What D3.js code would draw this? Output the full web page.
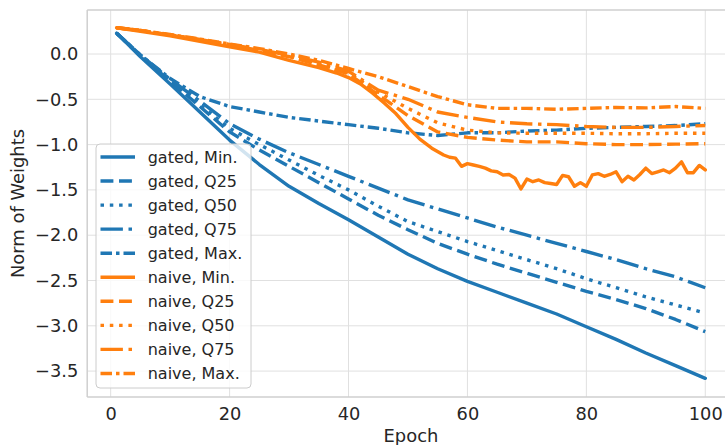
<!DOCTYPE html>
<html>
<head>
<meta charset="utf-8">
<script src="https://cdn.jsdelivr.net/npm/d3@7"></script>
<style>
  body { margin: 0; background: #fff; }
  svg { display: block; font-family: "DejaVu Sans", sans-serif; }
</style>
</head>
<body>
<div id="container"></div>
<script>
// Values
const epochs = [1, 5, 10, 15, 20, 25, 30, 35, 40, 45, 50, 55, 60, 65, 70, 75, 80, 85, 90, 95, 100];

const gatedMin = [0.23, -0.03, -0.33, -0.64, -0.95, -1.22, -1.46, -1.65, -1.83, -2.02, -2.21, -2.37, -2.51, -2.63, -2.75, -2.87, -3.01, -3.15, -3.30, -3.44, -3.58];
const gatedQ25 = [0.23, -0.02, -0.30, -0.58, -0.86, -1.06, -1.24, -1.42, -1.60, -1.78, -1.94, -2.09, -2.21, -2.32, -2.42, -2.52, -2.62, -2.71, -2.81, -2.93, -3.065];
const gatedQ50 = [0.23, -0.02, -0.29, -0.56, -0.82, -1.00, -1.17, -1.34, -1.50, -1.68, -1.85, -1.96, -2.07, -2.17, -2.27, -2.37, -2.48, -2.58, -2.68, -2.77, -2.86];
const gatedQ75 = [0.23, -0.01, -0.28, -0.52, -0.77, -0.94, -1.09, -1.22, -1.35, -1.48, -1.61, -1.71, -1.81, -1.91, -2.00, -2.09, -2.18, -2.27, -2.37, -2.46, -2.58];
const gatedMax = [0.23, -0.01, -0.27, -0.47, -0.58, -0.64, -0.70, -0.74, -0.78, -0.82, -0.87, -0.90, -0.87, -0.87, -0.85, -0.84, -0.82, -0.81, -0.80, -0.79, -0.77];

const naiveQ25 = [0.29, 0.26, 0.21, 0.155, 0.10, 0.04, -0.03, -0.12, -0.22, -0.45, -0.68, -0.86, -0.92, -0.95, -0.97, -0.97, -0.99, -1.00, -1.00, -0.995, -0.99];
const naiveQ50 = [0.29, 0.26, 0.21, 0.16, 0.10, 0.045, -0.02, -0.11, -0.21, -0.42, -0.60, -0.76, -0.84, -0.87, -0.875, -0.875, -0.875, -0.88, -0.88, -0.875, -0.875];
const naiveQ75 = [0.29, 0.26, 0.21, 0.16, 0.105, 0.05, -0.015, -0.09, -0.19, -0.40, -0.50, -0.64, -0.70, -0.75, -0.77, -0.78, -0.80, -0.81, -0.81, -0.80, -0.79];
const naiveMax = [0.29, 0.26, 0.215, 0.165, 0.11, 0.06, 0.00, -0.07, -0.16, -0.25, -0.36, -0.47, -0.56, -0.60, -0.60, -0.61, -0.60, -0.59, -0.595, -0.58, -0.60];

// naive Min is noisy, so it is read at more epochs
const naiveMinEpochs = [1, 5, 10, 15, 20, 25, 30, 35, 38, 40, 42, 44, 46, 48, 50, 52, 54, 56, 57, 58, 59, 60,
  61, 62, 63, 64, 65, 66, 67, 68, 69, 70, 71, 72, 73, 74, 75, 76, 77, 78, 79, 80,
  81, 82, 83, 84, 85, 86, 87, 88, 89, 90, 91, 92, 93, 94, 95, 96, 97, 98, 99, 100];
const naiveMin = [0.29, 0.25, 0.20, 0.14, 0.08, 0.02, -0.07, -0.15, -0.21, -0.26, -0.33, -0.43, -0.54, -0.66, -0.81, -0.94, -1.04, -1.115, -1.14, -1.15, -1.24, -1.21,
  -1.225, -1.24, -1.26, -1.29, -1.30, -1.335, -1.33, -1.37, -1.49, -1.38, -1.41, -1.39, -1.42, -1.43, -1.44, -1.34, -1.355, -1.46, -1.42, -1.46,
  -1.335, -1.32, -1.35, -1.33, -1.30, -1.41, -1.35, -1.39, -1.33, -1.26, -1.32, -1.30, -1.28, -1.31, -1.26, -1.19, -1.31, -1.31, -1.23, -1.28];

const xTicks = [0, 20, 40, 60, 80, 100];
const yTicks = [0.0, -0.5, -1.0, -1.5, -2.0, -2.5, -3.0, -3.5];

const blue = "#1f77b4";
const orange = "#ff7f0e";

// dash patterns (px) similar to matplotlib's at this line width
const dashes = {
    solid: null,
    dashed: "12.9,5.6",
    dotted: "3.5,5.8",
    dashdot: "22.4,5.6,3.5,5.6",
    dashdotShort: "11.5,4,3.5,4"
};

const series = [
    { name: "gated, Min.", x: epochs, y: gatedMin, color: blue, dash: dashes.solid },
    { name: "gated, Q25", x: epochs, y: gatedQ25, color: blue, dash: dashes.dashed },
    { name: "gated, Q50", x: epochs, y: gatedQ50, color: blue, dash: dashes.dotted },
    { name: "gated, Q75", x: epochs, y: gatedQ75, color: blue, dash: dashes.dashdot },
    { name: "gated, Max.", x: epochs, y: gatedMax, color: blue, dash: dashes.dashdotShort },
    { name: "naive, Min.", x: naiveMinEpochs, y: naiveMin, color: orange, dash: dashes.solid },
    { name: "naive, Q25", x: epochs, y: naiveQ25, color: orange, dash: dashes.dashed },
    { name: "naive, Q50", x: epochs, y: naiveQ50, color: orange, dash: dashes.dotted },
    { name: "naive, Q75", x: epochs, y: naiveQ75, color: orange, dash: dashes.dashdot },
    { name: "naive, Max.", x: epochs, y: naiveMax, color: orange, dash: dashes.dashdotShort }
];

const width = 725;
const height = 445;
// the axes run past the right edge of the picture, as in the reference
const plot = { left: 87.2, top: 10, right: 734.7, bottom: 397 };
const lineWidth = 3.4;

const svg = d3.select("#container").append("svg")
    .attr("width", width)
    .attr("height", height);

const x = d3.scaleLinear().domain([-3.95, 104.95]).range([plot.left, plot.right]);
const y = d3.scaleLinear().domain([-3.786, 0.4857]).range([plot.bottom, plot.top]);

// grid
svg.append("g")
    .selectAll("line")
    .data(yTicks)
    .join("line")
    .attr("x1", plot.left).attr("x2", plot.right)
    .attr("y1", d => y(d)).attr("y2", d => y(d))
    .attr("stroke", "#e0e0e0")
    .attr("stroke-width", 1);

svg.append("g")
    .selectAll("line")
    .data(xTicks)
    .join("line")
    .attr("y1", plot.top).attr("y2", plot.bottom)
    .attr("x1", d => x(d)).attr("x2", d => x(d))
    .attr("stroke", "#e0e0e0")
    .attr("stroke-width", 1);

// spines
const spines = svg.append("g").attr("stroke", "#cfcfcf").attr("stroke-width", 1.5).attr("fill", "none");
spines.append("path").attr("d", `M${plot.left},${plot.bottom}H${plot.right}`);
spines.append("path").attr("d", `M${plot.left},${plot.top}H${plot.right}`);
spines.append("path").attr("d", `M${plot.left},${plot.top}V${plot.bottom}`);

// axes (labels only, no tick marks)
const xAxis = svg.append("g")
    .attr("transform", `translate(0,${plot.bottom})`)
    .call(d3.axisBottom(x).tickValues(xTicks).tickSize(0).tickPadding(10).tickFormat(d3.format("d")));
const yAxis = svg.append("g")
    .attr("transform", `translate(${plot.left},0)`)
    .call(d3.axisLeft(y).tickValues(yTicks).tickSize(0).tickPadding(9).tickFormat(d3.format(".1f")));

[xAxis, yAxis].forEach(a => {
    a.select(".domain").remove();
    a.selectAll("text")
        .attr("font-family", "DejaVu Sans, sans-serif")
        .attr("font-size", 17.8)
        .attr("fill", "#262626");
});

svg.append("text")
    .attr("x", (plot.left + plot.right) / 2)
    .attr("y", 441.5)
    .attr("text-anchor", "middle")
    .attr("font-size", 17.9)
    .attr("fill", "#262626")
    .text("Epoch");

svg.append("text")
    .attr("transform", `translate(24,${(plot.top + plot.bottom) / 2}) rotate(-90)`)
    .attr("text-anchor", "middle")
    .attr("font-size", 17.9)
    .attr("fill", "#262626")
    .text("Norm of Weights");

// lines
const line = d3.line()
    .x(d => x(d[0]))
    .y(d => y(d[1]));

svg.append("g")
    .attr("fill", "none")
    .selectAll("path")
    .data(series)
    .join("path")
    .attr("d", s => line(d3.zip(s.x, s.y)))
    .attr("stroke", s => s.color)
    .attr("stroke-width", lineWidth)
    .attr("stroke-linejoin", "round")
    .attr("stroke-linecap", s => s.dash ? "butt" : "round")
    .attr("stroke-dasharray", s => s.dash);

// legend
const legend = svg.append("g");
const lg = { x: 96, y: 144, w: 155, h: 244, row: 24.05, first: 157 };

legend.append("rect")
    .attr("x", lg.x).attr("y", lg.y)
    .attr("width", lg.w).attr("height", lg.h)
    .attr("rx", 4)
    .attr("fill", "rgba(255,255,255,0.8)")
    .attr("stroke", "#cccccc")
    .attr("stroke-width", 1);

const item = legend.selectAll("g.item")
    .data(series)
    .join("g")
    .attr("class", "item")
    .attr("transform", (d, i) => `translate(0,${lg.first + i * lg.row})`);

item.append("line")
    .attr("x1", 100.5).attr("x2", 135)
    .attr("y1", 0).attr("y2", 0)
    .attr("stroke", d => d.color)
    .attr("stroke-width", lineWidth)
    .attr("stroke-dasharray", d => d.dash);

item.append("text")
    .attr("x", 147.7)
    .attr("y", 0)
    .attr("dy", "0.36em")
    .attr("font-size", 16)
    .attr("fill", "#262626")
    .text(d => d.name);
</script>
</body>
</html>
